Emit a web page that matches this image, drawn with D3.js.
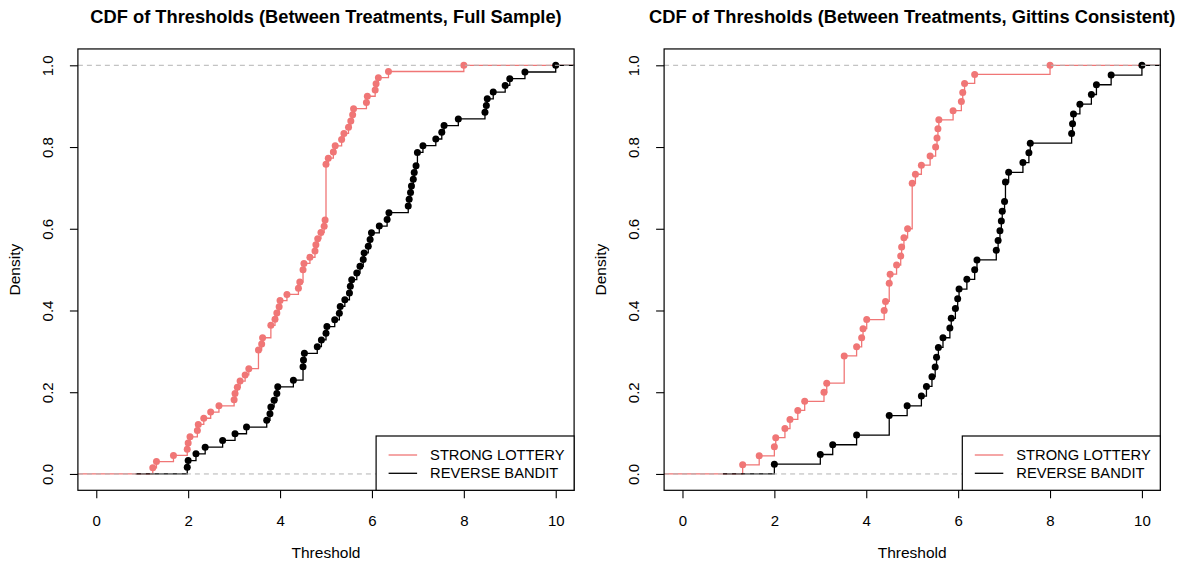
<!DOCTYPE html>
<html>
<head>
<meta charset="utf-8">
<script src="https://cdn.jsdelivr.net/npm/d3@7"></script>
<style>
  body { margin: 0; background: #ffffff; }
  svg { display: block; }
  text { font-family: "Liberation Sans", Arial, Helvetica, sans-serif; fill: #000; }
</style>
</head>
<body>
<svg id="chart" width="1188" height="567"></svg>
<script>
// Axis ticks
const xTicks = [0, 2, 4, 6, 8, 10];
const yTicks = [0, 0.2, 0.4, 0.6, 0.8, 1.0];

// Legend / series
const seriesNames = ["STRONG LOTTERY", "REVERSE BANDIT"];
const seriesColors = ["#F07676", "#000000"];

const panelTitles = [
  "CDF of Thresholds (Between Treatments, Full Sample)",
  "CDF of Thresholds (Between Treatments, Gittins Consistent)"
];

// Individual thresholds, full sample
const strongFull = [
  1.23, 1.31, 1.68, 1.98, 2.00, 2.04, 2.20, 2.22, 2.34, 2.49, 2.67, 3.00, 3.02, 3.07, 3.13, 3.24, 3.32,
  3.53, 3.53, 3.53, 3.60, 3.62, 3.80, 3.80, 3.89, 3.93, 3.98, 4.00, 4.15, 4.40, 4.43, 4.50, 4.50,
  4.52, 4.65, 4.76, 4.78, 4.82, 4.89, 4.96, 4.98,
  5.00, 5.00, 5.00, 5.00, 5.00, 5.00, 5.00, 5.00, 5.00,
  5.05, 5.16, 5.20, 5.34, 5.39, 5.49, 5.54, 5.58, 5.60, 5.88, 5.90, 6.07, 6.09, 6.14, 6.36, 8.00
];
const reverseFull = [
  1.98, 2.00, 2.17, 2.37, 2.75, 3.02, 3.27, 3.71, 3.78, 3.80, 3.87, 3.93, 3.95, 4.29, 4.50, 4.50,
  4.51, 4.53, 4.81, 4.90, 5.00, 5.02, 5.19, 5.29, 5.31, 5.41, 5.51, 5.53, 5.56, 5.67, 5.74, 5.81,
  5.83, 5.92, 5.96, 5.99, 6.16, 6.33, 6.37, 6.79, 6.81, 6.84, 6.86, 6.90, 6.92, 6.96, 6.99, 6.99,
  7.11, 7.39, 7.52, 7.57, 7.88, 8.46, 8.49, 8.51, 8.64, 8.90, 9.00, 9.33, 10.00
];

// Individual thresholds, Gittins-consistent subjects
const strongGittins = [
  1.31, 1.67, 2.00, 2.03, 2.23, 2.34, 2.51, 2.66, 3.08, 3.14, 3.52, 3.52, 3.52, 3.79, 3.90, 3.93,
  4.01, 4.39, 4.42, 4.50, 4.50, 4.52, 4.66, 4.75, 4.77, 4.82, 4.90,
  5.00, 5.00, 5.00, 5.00, 5.00,
  5.07, 5.20, 5.39, 5.51, 5.54, 5.56, 5.58, 5.89, 6.07, 6.10, 6.14, 6.36, 8.00
];
const reverseGittins = [
  2.00, 3.00, 3.27, 3.79, 4.50, 4.50, 4.89, 5.20, 5.31, 5.43, 5.50, 5.53, 5.57, 5.67, 5.82, 5.85,
  5.94, 5.99, 6.02, 6.19, 6.36, 6.41, 6.83, 6.87, 6.91, 6.94, 6.96, 7.01, 7.03, 7.03, 7.10, 7.41,
  7.54, 7.57, 8.47, 8.49, 8.51, 8.65, 8.90, 9.01, 9.33, 10.00
];

const panels = [
  { title: panelTitles[0], left: 77.9, series: [strongFull, reverseFull] },
  { title: panelTitles[1], left: 664.1, series: [strongGittins, reverseGittins] }
];

const svg = d3.select("#chart");
const boxW = 496.2, boxTop = 48.95, boxBottom = 490.3;
const xDomain = [-0.4, 10.4], yDomain = [-0.04, 1.04];

// Empirical CDF: distinct sorted values with cumulative share
function ecdf(values) {
  const s = values.slice().sort(d3.ascending);
  const n = s.length;
  const knots = Array.from(new Set(s));
  return knots.map(k => ({ x: k, y: d3.bisectRight(s, k) / n }));
}

panels.forEach((p, pi) => {
  const x = d3.scaleLinear().domain(xDomain).range([p.left, p.left + boxW]);
  const y = d3.scaleLinear().domain(yDomain).range([boxBottom, boxTop]);
  const g = svg.append("g");

  const clipId = "clip" + pi;
  svg.append("clipPath").attr("id", clipId)
    .append("rect").attr("x", p.left).attr("y", boxTop).attr("width", boxW).attr("height", boxBottom - boxTop);
  const plot = g.append("g").attr("clip-path", `url(#${clipId})`);

  const line = d3.line().x(d => x(d.x)).y(d => y(d.y)).curve(d3.curveStepAfter);

  p.series.forEach((vals, si) => {
    const steps = ecdf(vals);
    const kx = steps.map(d => d.x);
    let start, end;
    if (si === 0) {
      const dr = xDomain[1] - xDomain[0];
      start = xDomain[0] - dr; end = xDomain[1] + dr;
    } else {
      // overlaid curve spans its own range, widened as plot.stepfun does
      const rx = d3.extent(kx);
      const diffs = kx.slice(1).map((v, i) => v - kx[i]);
      const dr = Math.max(0.08 * (rx[1] - rx[0]), d3.median(diffs));
      start = rx[0] - 1.75 * dr; end = rx[1] + 2 * dr;
    }
    const pts = [{ x: start, y: 0 }, ...steps, { x: end, y: 1 }];
    plot.append("path").attr("d", line(pts))
      .attr("fill", "none").attr("stroke", seriesColors[si]).attr("stroke-width", 1.3);
    plot.selectAll(null).data(steps).enter().append("circle")
      .attr("cx", d => x(d.x)).attr("cy", d => y(d.y)).attr("r", 3.5)
      .attr("fill", seriesColors[si]);
  });

  // reference lines at 0 and 1
  plot.selectAll(null).data([0, 1]).enter().append("line")
    .attr("x1", p.left).attr("x2", p.left + boxW)
    .attr("y1", d => y(d)).attr("y2", d => y(d))
    .attr("stroke", "#b3b3b3").attr("stroke-width", 1).attr("stroke-dasharray", "5,4");

  // frame
  g.append("rect").attr("x", p.left).attr("y", boxTop).attr("width", boxW).attr("height", boxBottom - boxTop)
    .attr("fill", "none").attr("stroke", "#000").attr("stroke-width", 1.2);

  // x axis
  const xa = g.append("g").attr("transform", `translate(0,${boxBottom})`)
    .call(d3.axisBottom(x).tickValues(xTicks).tickSize(8).tickPadding(0).tickFormat(d3.format("d")));
  xa.select(".domain").remove();
  xa.selectAll(".tick line").attr("stroke", "#000").attr("stroke-width", 1.1);
  xa.selectAll(".tick text").attr("y", 30).attr("dy", "0.35em")
    .style("font-size", "15px").style("font-family", "'Liberation Sans', Arial, sans-serif");

  // y axis
  const ya = g.append("g").attr("transform", `translate(${p.left},0)`)
    .call(d3.axisLeft(y).tickValues(yTicks).tickSize(8).tickFormat(d3.format(".1f")));
  ya.select(".domain").remove();
  ya.selectAll(".tick line").attr("stroke", "#000").attr("stroke-width", 1.1);
  ya.selectAll(".tick text")
    .attr("x", null).attr("dy", null)
    .attr("transform", "translate(-25,0) rotate(-90)")
    .attr("text-anchor", "middle")
    .style("font-size", "15px").style("font-family", "'Liberation Sans', Arial, sans-serif");

  const cx = p.left + boxW / 2;
  g.append("text").attr("x", cx).attr("y", 17).attr("dy", "0.35em").attr("text-anchor", "middle")
    .style("font-size", "18.3px").style("font-weight", "bold").text(p.title);
  g.append("text").attr("x", cx).attr("y", 553).attr("dy", "0.35em").attr("text-anchor", "middle")
    .style("font-size", "15.5px").text("Threshold");
  g.append("text").attr("transform", `translate(${p.left - 58},${(boxTop + boxBottom) / 2}) rotate(-90)`)
    .attr("text-anchor", "middle").style("font-size", "15.5px").text("Density");

  // legend
  const lgX = p.left + boxW - 198, lgY = 436;
  g.append("rect").attr("x", lgX).attr("y", lgY).attr("width", 198).attr("height", boxBottom - lgY)
    .attr("fill", "#fff").attr("stroke", "#000").attr("stroke-width", 1.2);
  seriesNames.forEach((name, i) => {
    const ly = 455 + i * 18.3;
    g.append("line").attr("x1", lgX + 12.5).attr("x2", lgX + 41).attr("y1", ly).attr("y2", ly)
      .attr("stroke", seriesColors[i]).attr("stroke-width", 1.3);
    g.append("text").attr("x", lgX + 54).attr("y", ly).attr("dy", "0.35em")
      .style("font-size", "14.7px").text(name);
  });
});
</script>
</body>
</html>
